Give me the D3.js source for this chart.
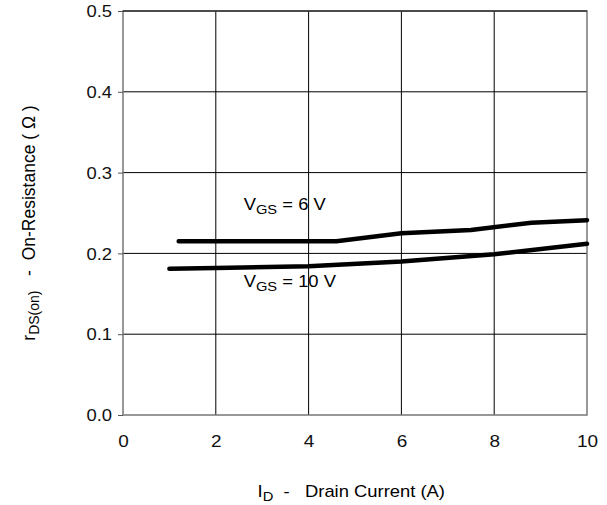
<!DOCTYPE html>
<html>
<head>
<meta charset="utf-8">
<script src="https://cdn.jsdelivr.net/npm/d3@7"></script>
<style>
  body { margin: 0; background: #fff; }
  svg { font-family: "Liberation Sans", Arial, sans-serif; }
  text { white-space: pre; }
</style>
</head>
<body>
<div id="chart"></div>
<script>
// values
const xTicks = [0, 2, 4, 6, 8, 10];
const yTicks = [0.0, 0.1, 0.2, 0.3, 0.4, 0.5];

const vgs6I = [1.2, 4.6, 6.0, 7.5, 8.8, 10];
const vgs6R = [0.215, 0.215, 0.225, 0.229, 0.238, 0.241];

const vgs10I = [1.0, 2.0, 4.0, 6.0, 8.0, 10];
const vgs10R = [0.181, 0.182, 0.184, 0.190, 0.199, 0.212];

const margin = {top: 11, right: 20, bottom: 90, left: 123};
const width = 607 - margin.left - margin.right;
const height = 505 - margin.top - margin.bottom;
const stretch = 1.15;   // source image text is a bit wide

const svg = d3.select("#chart").append("svg")
    .attr("width", 607)
    .attr("height", 505)
    .append("g")
    .attr("transform", `translate(${margin.left}, ${margin.top})`);

const x = d3.scaleLinear().domain([0, 10]).range([0, width]);
const y = d3.scaleLinear().domain([0, 0.5]).range([height, 0]);

// grid
svg.selectAll(".vgrid").data(xTicks.slice(1, -1)).enter()
    .append("line")
    .attr("x1", d => x(d)).attr("x2", d => x(d))
    .attr("y1", 0).attr("y2", height)
    .attr("stroke", "#000").attr("stroke-width", 1);
svg.selectAll(".hgrid").data(yTicks.slice(1, -1)).enter()
    .append("line")
    .attr("x1", 0).attr("x2", width)
    .attr("y1", d => y(d)).attr("y2", d => y(d))
    .attr("stroke", "#000").attr("stroke-width", 1);

// frame
svg.append("rect")
    .attr("width", width).attr("height", height)
    .attr("fill", "none").attr("stroke", "#777").attr("stroke-width", 1.5);
svg.append("line").attr("x1", 0).attr("x2", width).attr("y1", 0).attr("y2", 0)
    .attr("stroke", "#000").attr("stroke-width", 1.2);

// axes
const yAxis = d3.axisLeft(y).tickValues(yTicks).tickFormat(d3.format(".1f")).tickSizeOuter(0).tickSize(5);
const yg = svg.append("g").call(yAxis);
yg.select(".domain").remove();
yg.selectAll("line").attr("stroke", "#555");
yg.selectAll("text")
    .attr("font-size", 16).attr("fill", "#111")
    .attr("x", -11 / stretch).attr("dy", "0.36em")
    .attr("transform", `scale(${stretch},1)`);

const xAxis = d3.axisBottom(x).tickValues(xTicks).tickSize(0);
const xg = svg.append("g").attr("transform", `translate(0, ${height})`).call(xAxis);
xg.select(".domain").remove();
xg.selectAll("text")
    .attr("font-size", 16.5).attr("fill", "#111")
    .attr("y", 32).attr("dy", 0)
    .attr("transform", `scale(${stretch},1)`);

// curves
const line = d3.line().x(d => x(d[0])).y(d => y(d[1]));
[[vgs6I, vgs6R], [vgs10I, vgs10R]].forEach(([xs, ys]) => {
    svg.append("path")
        .datum(xs.map((v, i) => [v, ys[i]]))
        .attr("d", line)
        .attr("fill", "none")
        .attr("stroke", "#000")
        .attr("stroke-width", 4.5)
        .attr("stroke-linecap", "round");
});

// text with a subscript, stretched sideways like the source
function subText(px, py, main, sub, rest, size) {
    const t = svg.append("text")
        .attr("transform", `translate(${px}, ${py}) scale(${stretch},1)`)
        .attr("font-size", size).attr("fill", "#000");
    t.append("tspan").text(main);
    t.append("tspan").attr("font-size", size * 0.8).attr("dy", 4).text(sub);
    t.append("tspan").attr("dy", -4).text(rest);
    return t;
}
subText(x(2.6), 199, "V", "GS", " = 6 V", 16);
subText(x(2.6), 276, "V", "GS", " = 10 V", 16);

// x title
subText(x(2.9), height + 82, "I", "D", "  -   Drain Current (A)", 16);

// y title
const yt = svg.append("text")
    .attr("transform", `translate(${35 - margin.left}, ${223 - margin.top}) rotate(-90)`)
    .attr("text-anchor", "middle")
    .attr("font-size", 17.5).attr("fill", "#000");
yt.append("tspan").text("r");
yt.append("tspan").attr("font-size", 14).attr("dy", 4).text("DS(on)");
yt.append("tspan").attr("dy", -4).text("   -  On-Resistance ( Ω )");
</script>
</body>
</html>
